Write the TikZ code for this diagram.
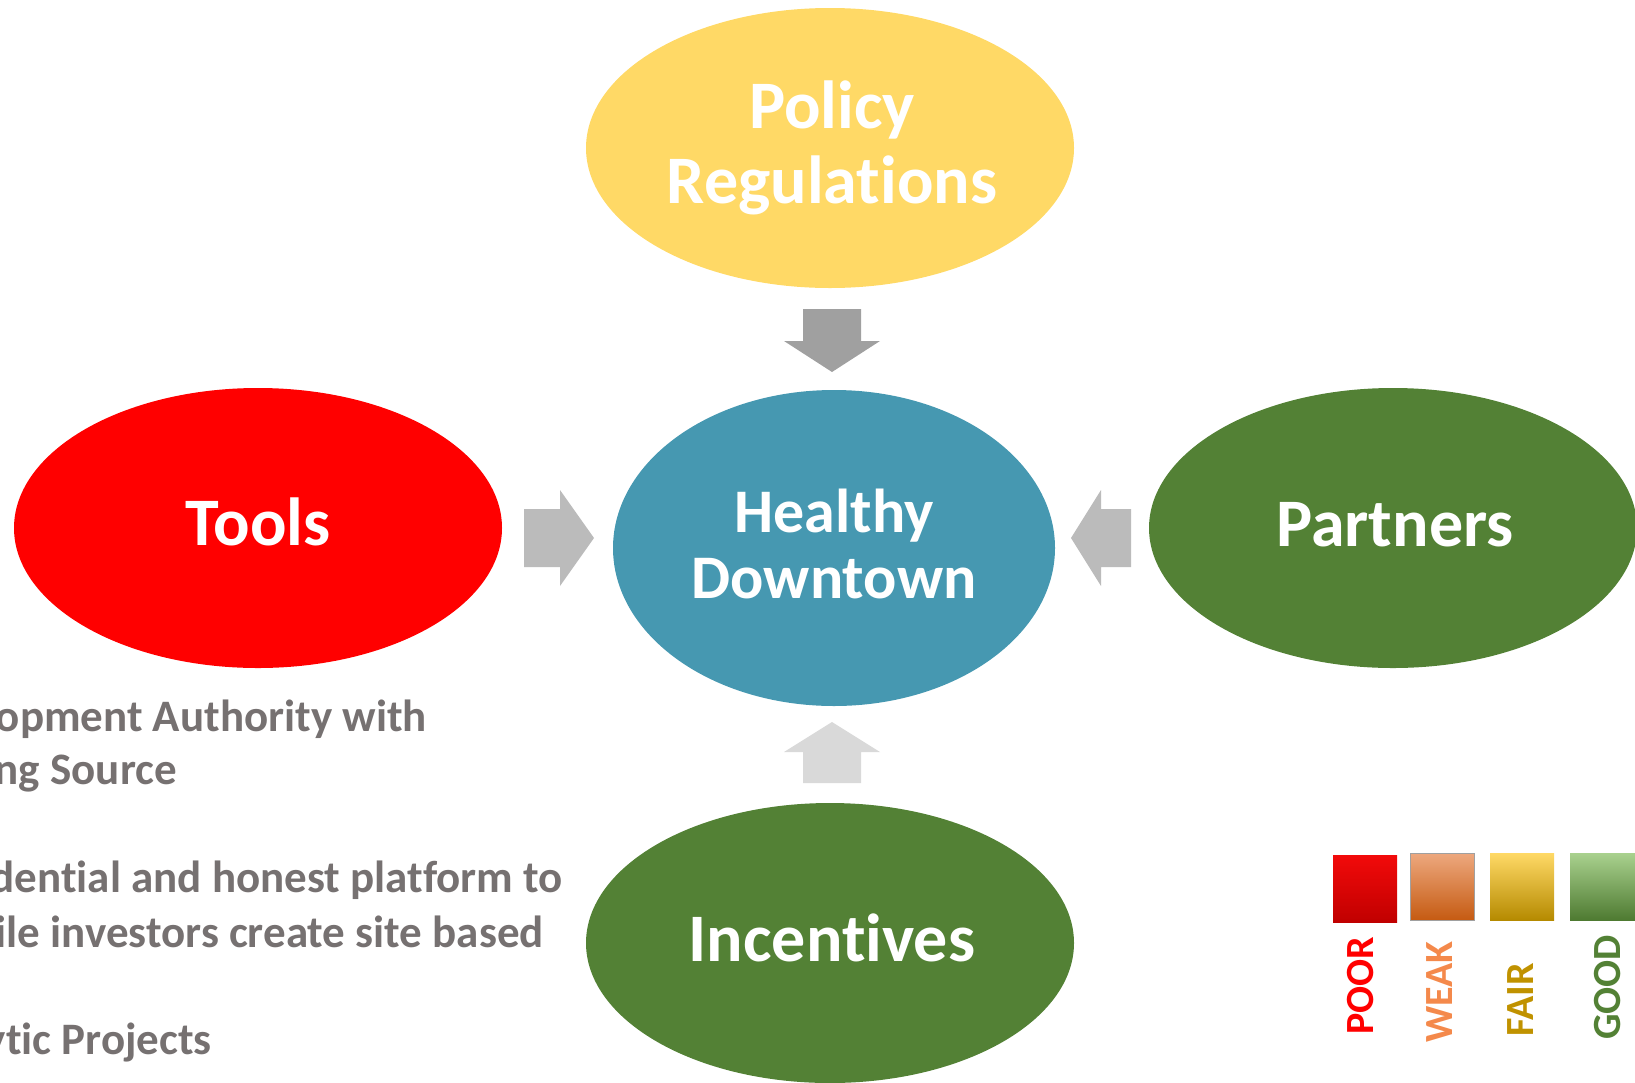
\documentclass[tikz,border=0pt]{standalone}
\usepackage{fontspec}
\setmainfont{Carlito}[Ligatures=NoCommon]
\usetikzlibrary{shapes.geometric}

\definecolor{policyc}{HTML}{FFD966}
\definecolor{healthc}{HTML}{4698B1}
\definecolor{toolsc}{HTML}{FF0000}
\definecolor{greenc}{HTML}{538135}
\definecolor{notec}{HTML}{767171}
\definecolor{arrowtop}{HTML}{A0A0A0}
\definecolor{arrowside}{HTML}{BBBBBB}
\definecolor{arrowlow}{HTML}{D9D9D9}
\definecolor{poorc}{HTML}{FF0000}
\definecolor{weakc}{HTML}{F4894B}
\definecolor{fairc}{HTML}{C09200}
% swatch gradients: top, middle, bottom
\definecolor{poorT}{HTML}{F20A0A}
\definecolor{poorM}{HTML}{B3383C}
\definecolor{poorB}{HTML}{C00000}
\definecolor{weakT}{HTML}{EDA87E}
\definecolor{weakM}{HTML}{C07842}
\definecolor{weakB}{HTML}{C55A11}
\definecolor{fairT}{HTML}{FFD966}
\definecolor{fairM}{HTML}{FFC000}
\definecolor{fairB}{HTML}{B58A00}
\definecolor{goodT}{HTML}{A9D18E}
\definecolor{goodM}{HTML}{70AD47}
\definecolor{goodB}{HTML}{4E7A31}

\begin{document}
\begin{tikzpicture}[x=1pt,y=-1pt,
  bubble/.style={ellipse, draw=none, inner sep=0pt,
    minimum width=488pt, minimum height=280pt},
  biglbl/.style={text=white, inner sep=0pt, anchor=base,
    font=\bfseries\fontsize{68}{75}\selectfont},
  midlbl/.style={text=white, inner sep=0pt, anchor=base,
    font=\bfseries\fontsize{62}{66}\selectfont},
  note/.style={text=notec, inner sep=0pt, anchor=base east,
    font=\bfseries\fontsize{45}{55}\selectfont},
  rating/.style={inner sep=0pt, rotate=90, anchor=base west,
    font=\bfseries\fontsize{40}{48}\selectfont},
  swatch/.style={inner sep=0pt, anchor=north west,
    minimum width=64pt, minimum height=67pt}]

\useasboundingbox (0,0) rectangle (1635,1082);

% the five ellipses
\node[bubble, fill=policyc] (policy) at (830,148) {};
\node[bubble, fill=healthc, minimum width=442pt, minimum height=316pt] (health) at (834,548) {};
\node[bubble, fill=toolsc] (tools) at (258,528) {};
\node[bubble, fill=greenc] (partners) at (1393,528) {};
\node[bubble, fill=greenc] (incent) at (830,943) {};

% their labels
\node[biglbl] (policyA) at (832,128) {Policy};
\node[biglbl] (policyB) at (832,203) {Regulations};
\node[midlbl] (healthA) at (834,532) {Healthy};
\node[midlbl] (healthB) at (834,598) {Downtown};
\node[biglbl] (toolsL) at (258,545) {Tools};
\node[biglbl] (partnersL) at (1395,546) {Partners};
\node[biglbl] (incentL) at (832,961) {Incentives};

% block arrows pointing at the centre
\fill[arrowtop] (803,309) -- (861,309) -- (861,341) -- (880,341) -- (832,372)
  -- (784,341) -- (803,341) -- cycle;
\fill[arrowlow] (803,783) -- (861,783) -- (861,752) -- (880,752) -- (832,722)
  -- (784,752) -- (803,752) -- cycle;
\fill[arrowside] (524,509) -- (560,509) -- (560,490) -- (594,538) -- (560,586)
  -- (560,567) -- (524,567) -- cycle;
\fill[arrowside] (1131,509) -- (1101,509) -- (1101,490) -- (1071,538) -- (1101,586)
  -- (1101,567) -- (1131,567) -- cycle;

% notes under the Tools ellipse
\node[note] (n1) at (427,731) {opment Authority with};
\node[note] (n2) at (177,784) {ng Source};
\node[note] (n3) at (563,892) {dential and honest platform to};
\node[note] (n4) at (544,947) {ile investors create site based};
\node[note] (n5) at (212,1054) {ytic Projects};

% rating legend: swatches
\node[swatch, top color=poorT, middle color=poorM, bottom color=poorB] (sPoor) at (1333,855) {};
\node[swatch, top color=weakT, middle color=weakM, bottom color=weakB,
  draw=arrowtop, line width=1pt] (sWeak) at (1410,853) {};
\node[swatch, top color=fairT, middle color=fairM, bottom color=fairB] (sFair) at (1490,853) {};
\node[swatch, top color=goodT, middle color=goodM, bottom color=goodB, minimum width=65pt] (sGood) at (1570,853) {};

% rating legend: rotated words
\node[rating, text=poorc] (tPoor) at (1373,1035) {POOR};
\node[rating, text=weakc] (tWeak) at (1452,1043) {WEAK};
\node[rating, text=fairc] (tFair) at (1533,1037) {FAIR};
\node[rating, text=greenc] (tGood) at (1620,1040) {GOOD};
\end{tikzpicture}
\end{document}
